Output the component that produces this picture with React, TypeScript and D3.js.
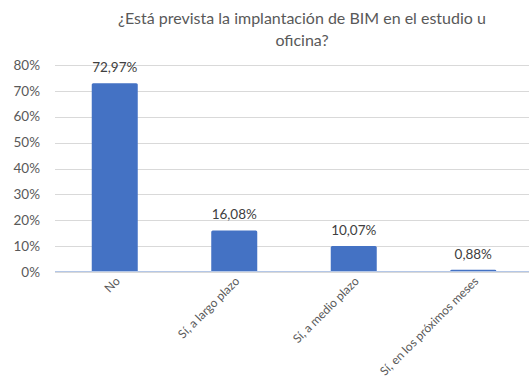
import { useEffect, useRef } from "react";
import * as d3 from "d3";

const categories = ["No", "Sí, a largo plazo", "Sí, a medio plazo", "Sí, en los próximos meses"];
const values = [72.97, 16.08, 10.07, 0.88];
const valueLabels = ["72,97%", "16,08%", "10,07%", "0,88%"];
const yTicks = [0, 10, 20, 30, 40, 50, 60, 70, 80];
const titleLines = ["¿Está prevista la implantación de BIM en el estudio u", "oficina?"];

const W = 529;
const H = 378;

export default function App() {
  const svgRef = useRef<SVGSVGElement>(null);

  useEffect(() => {
    if (!svgRef.current) return;
    const svg = d3.select(svgRef.current);
    svg.selectAll("*").remove();

    const font = "Lato, 'Open Sans', sans-serif";

    const x = d3.scaleBand<string>()
      .domain(categories)
      .range([55, 533])
      .paddingInner(0.615)
      .paddingOuter(0.3075);

    const y = d3.scaleLinear().domain([0, 80]).range([272, 65]);

    // title
    svg.append("g")
      .selectAll("text")
      .data(titleLines)
      .enter()
      .append("text")
      .attr("x", 302)
      .attr("y", (d, i) => 24 + i * 22)
      .attr("text-anchor", "middle")
      .style("font-family", font)
      .style("font-size", "16px")
      .style("fill", "#595959")
      .text(d => d);

    // gridlines
    svg.append("g")
      .selectAll("line")
      .data(yTicks)
      .enter()
      .append("line")
      .attr("x1", 55)
      .attr("x2", 533)
      .attr("y1", d => Math.round(y(d)) + 0.5)
      .attr("y2", d => Math.round(y(d)) + 0.5)
      .attr("stroke", "#d9d9d9")
      .attr("stroke-width", 1);

    // y labels
    svg.append("g")
      .selectAll("text")
      .data(yTicks)
      .enter()
      .append("text")
      .attr("x", 40)
      .attr("y", d => y(d))
      .attr("dy", "0.35em")
      .attr("text-anchor", "end")
      .style("font-family", font)
      .style("font-size", "13.5px")
      .style("fill", "#595959")
      .text(d => d + "%");

    // bars
    svg.append("g")
      .selectAll("rect")
      .data(values)
      .enter()
      .append("rect")
      .attr("x", (d, i) => x(categories[i])!)
      .attr("y", d => y(d))
      .attr("width", x.bandwidth())
      .attr("height", d => y(0) - y(d))
      .attr("rx", 1.5)
      .attr("fill", "#4472c4");

    // axis line over bars
    svg.append("line")
      .attr("x1", 55)
      .attr("x2", 533)
      .attr("y1", y(0) - 0.5)
      .attr("y2", y(0) - 0.5)
      .attr("stroke", "#b4c7e7")
      .attr("stroke-width", 1);

    // value labels
    svg.append("g")
      .selectAll("text")
      .data(values)
      .enter()
      .append("text")
      .attr("x", (d, i) => x(categories[i])! + x.bandwidth() / 2)
      .attr("y", d => y(d) - 11)
      .attr("text-anchor", "middle")
      .style("font-family", font)
      .style("font-size", "13.5px")
      .style("fill", "#404040")
      .text((d, i) => valueLabels[i]);

    // category labels
    svg.append("g")
      .selectAll("text")
      .data(categories)
      .enter()
      .append("text")
      .attr("transform", d => `translate(${x(d)! + x.bandwidth() / 2 + 6},${282}) rotate(-45)`)
      .attr("text-anchor", "end")
      .style("font-family", font)
      .style("font-size", "12px")
      .style("fill", "#595959")
      .text(d => d);
  }, []);

  return (
    <svg
      ref={svgRef}
      width={W}
      height={H}
      style={{ position: "absolute", left: 0, top: 0, background: "#fff" }}
    />
  );
}
